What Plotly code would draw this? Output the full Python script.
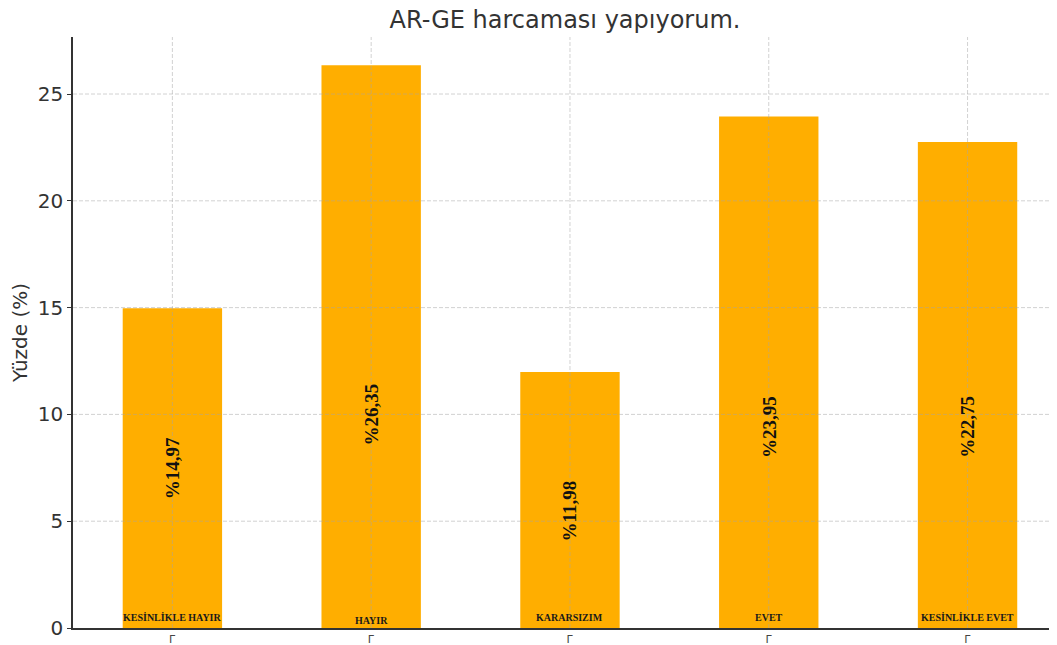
import plotly.graph_objects as go

categories = ["KESİNLİKLE HAYIR", "HAYIR", "KARARSIZIM", "EVET", "KESİNLİKLE EVET"]
values = [14.97, 26.35, 11.98, 23.95, 22.75]
y_ticks = [0, 5, 10, 15, 20, 25]
tick_glyph = "Г"

# where the rotated value labels sit (y, in data units)
label_y = [7.5, 10.0, 5.5, 9.4, 9.4]

BAR_COLOR = "#FFAE00"
GRID = "rgba(165,165,165,0.5)"
SERIF = "Liberation Serif, DejaVu Serif, serif"
SANS = "DejaVu Sans, sans-serif"

# page body has an 8px margin, so the figure is sized to end at the window edge
W, H = 1049, 637

x_pos = list(range(len(categories)))
labels = ["%" + f"{v:.2f}".replace(".", ",") for v in values]

fig = go.Figure()
fig.add_trace(
    go.Bar(
        x=x_pos,
        y=values,
        width=0.5,
        marker=dict(color=BAR_COLOR, line=dict(width=0)),
        hoverinfo="skip",
    )
)

# rotated value labels
for x, y, lab in zip(x_pos, label_y, labels):
    fig.add_annotation(
        x=x, y=y, xref="x", yref="y",
        text=f"<b>{lab}</b>",
        showarrow=False,
        textangle=-90,
        font=dict(family=SERIF, size=19, color="#111"),
    )

# category names sitting at the foot of each bar
for x, name in zip(x_pos, categories):
    fig.add_annotation(
        x=x, y=0, xref="x", yref="y",
        text=f"<b>{name}</b>",
        showarrow=False,
        yanchor="bottom", yshift=3 if name != "HAYIR" else 0,
        font=dict(family=SERIF, size=10, color="#1a1a1a"),
    )

# dashed grid drawn over the bars, as in the original
for y in y_ticks[1:]:
    fig.add_shape(type="line", xref="paper", yref="y", x0=0, x1=1, y0=y, y1=y,
                  line=dict(color=GRID, width=1, dash="4px,2px"), layer="above")
for x in x_pos:
    fig.add_shape(type="line", xref="x", yref="paper", x0=x, x1=x, y0=0, y1=1,
                  line=dict(color=GRID, width=1, dash="4px,2px"), layer="above")

fig.update_layout(
    width=W,
    height=H,
    margin=dict(l=65, r=0, t=29, b=17, autoexpand=False),
    paper_bgcolor="white",
    plot_bgcolor="white",
    showlegend=False,
    title=dict(
        text="AR-GE harcaması yapıyorum.",
        x=0.5, xref="paper", xanchor="center",
        y=1 - 3 / H, yref="container", yanchor="top",
        pad=dict(t=0, b=0),
        font=dict(family=SANS, size=24, color="#333"),
    ),
    xaxis=dict(
        range=[-0.5, 4.45],
        tickmode="array",
        tickvals=x_pos,
        ticktext=[tick_glyph] * len(x_pos),
        tickfont=dict(family=SANS, size=11, color="#444"),
        ticks="",
        ticklabelstandoff=0,
        showgrid=False,
        zeroline=False,
        showline=True,
        linecolor="#333",
        linewidth=1.6,
    ),
    yaxis=dict(
        range=[0, 27.67],
        tickvals=y_ticks,
        tickfont=dict(family=SANS, size=20, color="#333"),
        ticks="outside",
        ticklen=4,
        tickcolor="#333",
        showgrid=False,
        zeroline=False,
        showline=True,
        linecolor="#333",
        linewidth=1.6,
        title=dict(text="Yüzde (%)", font=dict(family=SANS, size=20, color="#333"), standoff=10),
    ),
)

fig.write_html("out.html")
